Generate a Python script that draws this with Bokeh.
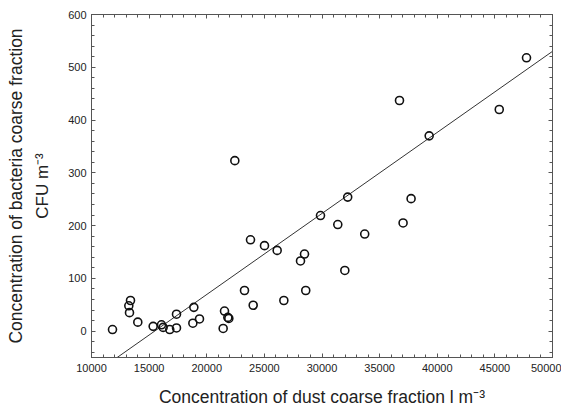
import numpy as np
from bokeh.plotting import figure
from bokeh.models import (Range1d, SingleIntervalTicker, LinearAxis,
                          CustomJSTickFormatter)
from bokeh.embed import file_html
from bokeh.resources import INLINE

# Data
dust = [11822, 13384, 13237, 13297, 14017, 15350, 16073, 16217, 16790, 17375,
        17375, 18880, 18795, 19370, 21540, 21424, 21830, 21916, 23275, 24030,
        26690, 22436, 28590, 23796, 25010, 26110, 28482, 28135, 31980, 29870,
        31370, 32230, 33706, 37036, 37730, 39300, 36724, 45380, 47745]
bacteria = [3, 58, 48, 35, 17, 9, 12, 7, 3, 6,
            32, 45, 15, 23, 38, 5, 26, 24, 77, 49,
            58, 323, 77, 173, 162, 153, 146, 133, 115, 219,
            202, 254, 184, 205, 251, 370, 437, 420, 518]

# regression line as drawn in the reference
fit_slope = 0.01536
fit_intercept = -237.8

x_start, x_end = 10000, 50000
y_start, y_end = -50, 600
x_tick_step, y_tick_step = 5000, 100

x_title = "Concentration of dust coarse fraction l m⁻³"
y_title1 = "Concentration of bacteria coarse fraction"
y_title2 = "CFU m⁻³"

FONT = "Liberation Sans"
TXT = "#222222"
AX = "#555555"

FW, FH = 461, 343
BL, BR, BT, BB = 91, 9, 14, 51

p = figure(frame_width=FW, frame_height=FH,
           x_range=Range1d(x_start, x_end), y_range=Range1d(y_start, y_end),
           output_backend="svg", toolbar_location=None,
           min_border_left=BL, min_border_right=BR, min_border_top=BT, min_border_bottom=BB,
           x_axis_type=None, y_axis_type=None)
p.xgrid.visible = False
p.ygrid.visible = False
p.outline_line_color = AX
p.background_fill_color = "white"
p.border_fill_color = "white"

def style(ax, labels=True, title_size="17.5px"):
    ax.axis_line_color = AX
    ax.major_tick_line_color = AX
    ax.minor_tick_line_color = AX
    ax.major_tick_in = 4
    ax.major_tick_out = 0
    ax.minor_tick_in = 3
    ax.minor_tick_out = 0
    ax.major_label_text_font = FONT
    ax.major_label_text_font_size = "11px"
    ax.major_label_text_color = TXT
    ax.axis_label_text_font = FONT
    ax.axis_label_text_font_size = title_size
    ax.axis_label_text_font_style = "normal"
    ax.axis_label_text_color = TXT
    if not labels:
        ax.formatter = CustomJSTickFormatter(code="return ''")
        ax.major_label_standoff = 0
        ax.major_label_text_font_size = "0px"

xb = LinearAxis(ticker=SingleIntervalTicker(interval=x_tick_step, num_minor_ticks=5),
                axis_label=x_title)
style(xb)
xb.major_label_standoff = 6
xb.axis_label_standoff = 12
p.add_layout(xb, "below")
xt = LinearAxis(ticker=SingleIntervalTicker(interval=x_tick_step, num_minor_ticks=5))
style(xt, labels=False)
p.add_layout(xt, "above")

yl = LinearAxis(ticker=SingleIntervalTicker(interval=y_tick_step, num_minor_ticks=5),
                axis_label=y_title2)
style(yl, title_size="17px")
yl.major_label_standoff = 5
yl.axis_label_standoff = 13
p.add_layout(yl, "left")

# outer left axis carrying only the first title line
yo = LinearAxis(ticker=SingleIntervalTicker(interval=y_tick_step, num_minor_ticks=5),
                axis_label=y_title1)
style(yo, labels=False)
yo.axis_line_color = None
yo.major_tick_line_color = None
yo.minor_tick_line_color = None
yo.major_tick_in = 0
yo.minor_tick_in = 0
yo.axis_label_standoff = 5
p.add_layout(yo, "left")

yr = LinearAxis(ticker=SingleIntervalTicker(interval=y_tick_step, num_minor_ticks=5))
style(yr, labels=False)
p.add_layout(yr, "right")

lx = [x_start, x_end]
ly = [fit_intercept + fit_slope * v for v in lx]
p.line(lx, ly, line_color="#333333", line_width=1)

p.scatter(dust, bacteria, marker="circle", size=8, fill_color=None,
          line_color="#111111", line_width=1.6)

open("out.html", "w").write(file_html(p, INLINE))
